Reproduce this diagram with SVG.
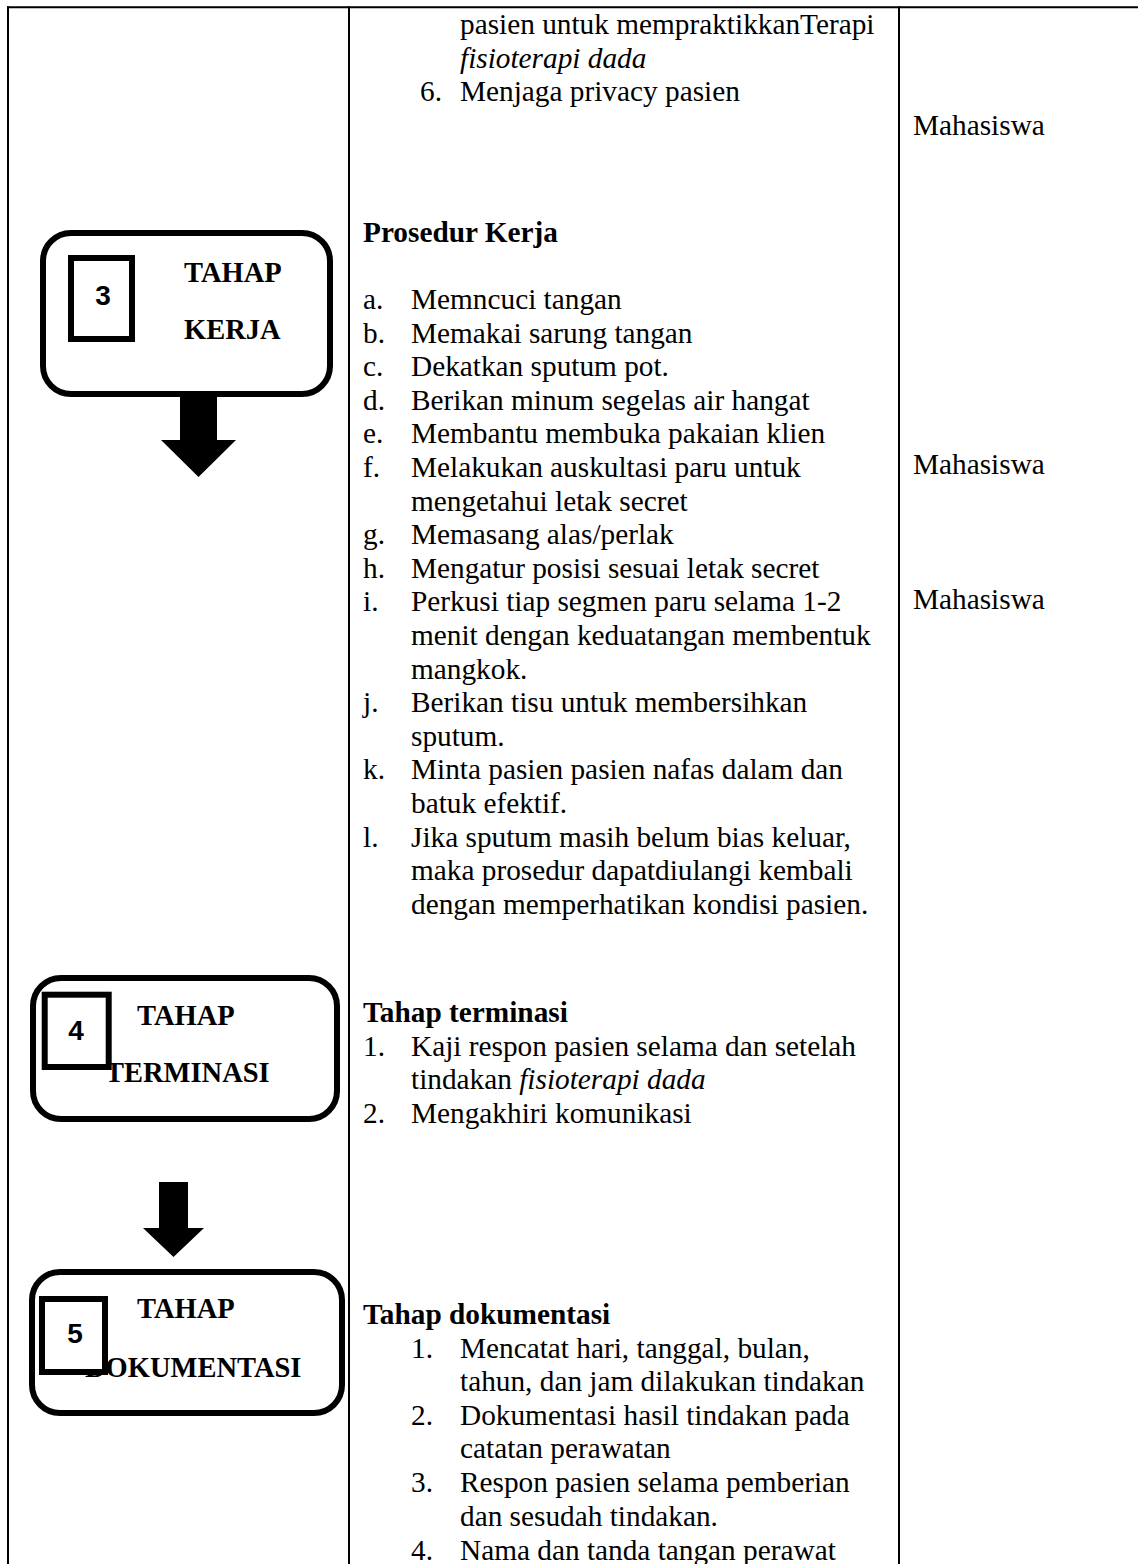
<svg xmlns="http://www.w3.org/2000/svg" width="1138" height="1564" viewBox="0 0 1138 1564">
<style>
.grid{stroke:#000;stroke-width:2;fill:none}
.body{font-family:"Liberation Serif","Times New Roman",serif;font-size:29.3px;fill:#000}
.b{font-weight:bold}
.i{font-style:italic}
.label{font-family:"Liberation Serif","Times New Roman",serif;font-weight:bold;font-size:28.5px;fill:#000}
.num{font-family:"Liberation Sans",Arial,sans-serif;font-weight:bold;font-size:28px;text-anchor:middle;fill:#000}
.box{fill:#fff;stroke:#000;stroke-width:6}
.sq{fill:#fff;stroke:#000;stroke-width:6}
.arrow{fill:#000}
</style>
<rect width="1138" height="1564" fill="#fff"/>
<g id="table">
<line class="grid" x1="7" y1="7.3" x2="1138" y2="7.3"/>
<line class="grid" x1="8" y1="6.3" x2="8" y2="1564"/>
<line class="grid" x1="349" y1="6.3" x2="349" y2="1564"/>
<line class="grid" x1="899" y1="6.3" x2="899" y2="1564"/>
</g>
<g id="connectors">
<polygon class="arrow" points="180,394 217,394 217,440 236,440 198.5,477 161,440 180,440"/>
<polygon class="arrow" points="159,1182 188,1182 188,1228 204,1228 173.5,1257 143,1228 159,1228"/>
</g>
<g id="node-tahap-kerja">
<rect class="box" x="43" y="233" width="287" height="161" rx="28" ry="28"/>
<text class="label" x="184" y="282">TAHAP</text>
<text class="label" x="184" y="339">KERJA</text>
<rect class="sq" x="71" y="258" width="61" height="81"/>
<text class="num" x="103" y="305">3</text>
</g>
<g id="node-tahap-terminasi">
<rect class="box" x="33" y="978" width="304" height="141" rx="28" ry="28"/>
<text class="label" x="137" y="1025">TAHAP</text>
<text class="label" x="105" y="1082">TERMINASI</text>
<rect class="sq" x="44.7" y="994.7" width="64" height="72.3"/>
<text class="num" x="76" y="1040">4</text>
</g>
<g id="node-tahap-dokumentasi">
<rect class="box" x="32" y="1272" width="310" height="141" rx="28" ry="28"/>
<text class="label" x="137" y="1318">TAHAP</text>
<text class="label" x="85" y="1377">DOKUMENTASI</text>
<rect class="sq" x="42" y="1299" width="63" height="73"/>
<text class="num" x="75" y="1343">5</text>
</g>
<g id="cell-persiapan" class="body">
<text x="460" y="34">pasien untuk mempraktikkanTerapi</text>
<text x="460" y="67.6" class="i">fisioterapi dada</text>
<text x="420" y="101.2">6.</text>
<text x="460" y="101.2">Menjaga privacy pasien</text>
</g>
<g id="cell-prosedur" class="body">
<text x="363" y="242" class="b">Prosedur Kerja</text>
<text x="363" y="309">a.</text><text x="411" y="309">Memncuci tangan</text>
<text x="363" y="342.6">b.</text><text x="411" y="342.6">Memakai sarung tangan</text>
<text x="363" y="376.2">c.</text><text x="411" y="376.2">Dekatkan sputum pot.</text>
<text x="363" y="409.8">d.</text><text x="411" y="409.8">Berikan minum segelas air hangat</text>
<text x="363" y="443.4">e.</text><text x="411" y="443.4">Membantu membuka pakaian klien</text>
<text x="363" y="477">f.</text><text x="411" y="477">Melakukan auskultasi paru untuk</text>
<text x="411" y="510.6">mengetahui letak secret</text>
<text x="363" y="544.2">g.</text><text x="411" y="544.2">Memasang alas/perlak</text>
<text x="363" y="577.8">h.</text><text x="411" y="577.8">Mengatur posisi sesuai letak secret</text>
<text x="363" y="611.4">i.</text><text x="411" y="611.4">Perkusi tiap segmen paru selama 1-2</text>
<text x="411" y="645">menit dengan keduatangan membentuk</text>
<text x="411" y="678.6">mangkok.</text>
<text x="363" y="712.2">j.</text><text x="411" y="712.2">Berikan tisu untuk membersihkan</text>
<text x="411" y="745.8">sputum.</text>
<text x="363" y="779.4">k.</text><text x="411" y="779.4">Minta pasien pasien nafas dalam dan</text>
<text x="411" y="813">batuk efektif.</text>
<text x="363" y="846.6">l.</text><text x="411" y="846.6">Jika sputum masih belum bias keluar,</text>
<text x="411" y="880.2">maka prosedur dapatdiulangi kembali</text>
<text x="411" y="913.8">dengan memperhatikan kondisi pasien.</text>
</g>
<g id="cell-terminasi" class="body">
<text x="363" y="1022" class="b">Tahap terminasi</text>
<text x="363" y="1055.5">1.</text><text x="411" y="1055.5">Kaji respon pasien selama dan setelah</text>
<text x="411" y="1089">tindakan <tspan class="i">fisioterapi dada</tspan></text>
<text x="363" y="1122.5">2.</text><text x="411" y="1122.5">Mengakhiri komunikasi</text>
</g>
<g id="cell-dokumentasi" class="body">
<text x="363" y="1324" class="b">Tahap dokumentasi</text>
<text x="411" y="1357.6">1.</text><text x="460" y="1357.6">Mencatat hari, tanggal, bulan,</text>
<text x="460" y="1391.2">tahun, dan jam dilakukan tindakan</text>
<text x="411" y="1424.8">2.</text><text x="460" y="1424.8">Dokumentasi hasil tindakan pada</text>
<text x="460" y="1458.4">catatan perawatan</text>
<text x="411" y="1492">3.</text><text x="460" y="1492">Respon pasien selama pemberian</text>
<text x="460" y="1525.6">dan sesudah tindakan.</text>
<text x="411" y="1560">4.</text><text x="460" y="1560">Nama dan tanda tangan perawat</text>
</g>
<g id="cell-pelaksana" class="body">
<text x="913" y="135">Mahasiswa</text>
<text x="913" y="474">Mahasiswa</text>
<text x="913" y="609">Mahasiswa</text>
</g>
</svg>
